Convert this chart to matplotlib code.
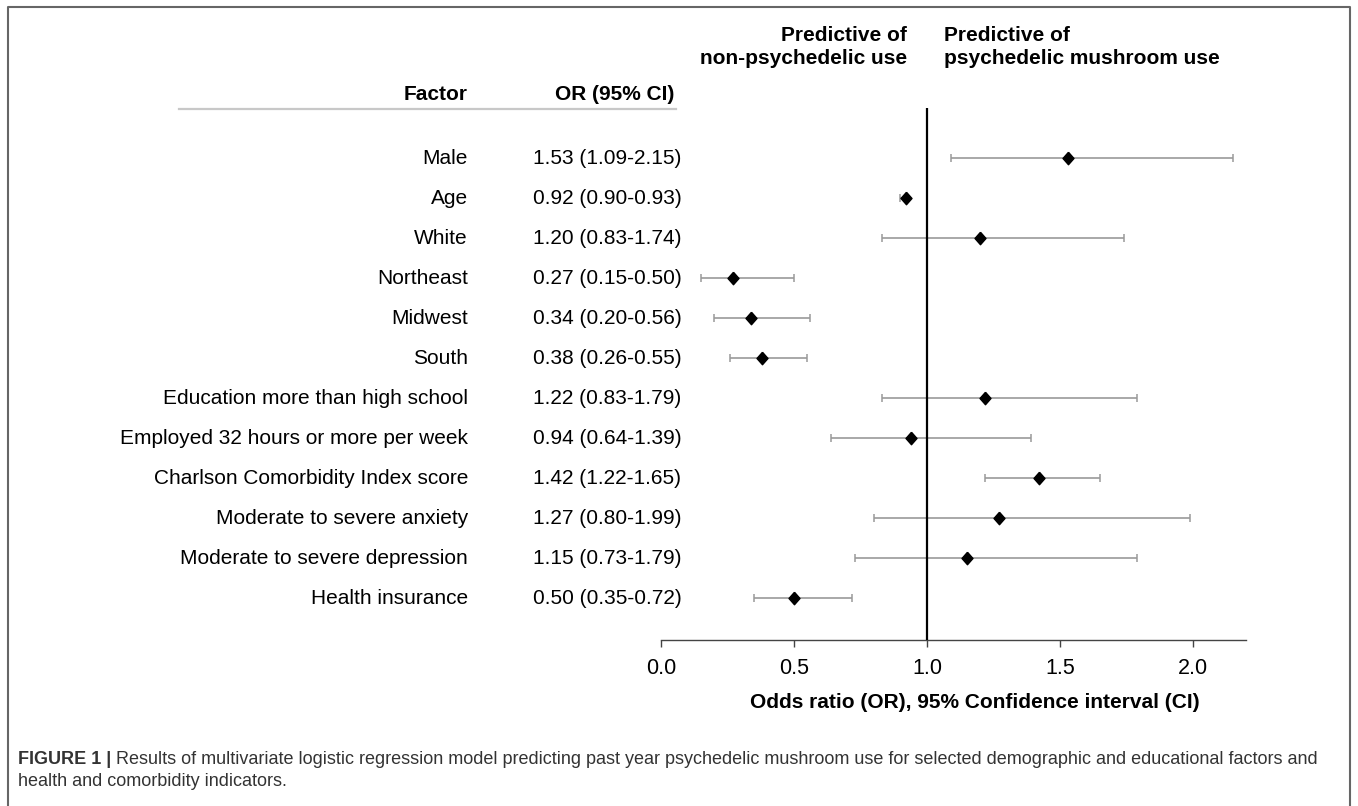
import matplotlib
matplotlib.use("Agg")
import matplotlib.pyplot as plt
from matplotlib.lines import Line2D

plt.rcParams['font.family'] = ['Liberation Sans', 'DejaVu Sans']

factors = ["Male", "Age", "White", "Northeast", "Midwest", "South",
           "Education more than high school", "Employed 32 hours or more per week",
           "Charlson Comorbidity Index score", "Moderate to severe anxiety",
           "Moderate to severe depression", "Health insurance"]
odds = [1.53, 0.92, 1.20, 0.27, 0.34, 0.38, 1.22, 0.94, 1.42, 1.27, 1.15, 0.50]
ci_low = [1.09, 0.90, 0.83, 0.15, 0.20, 0.26, 0.83, 0.64, 1.22, 0.80, 0.73, 0.35]
ci_high = [2.15, 0.93, 1.74, 0.50, 0.56, 0.55, 1.79, 1.39, 1.65, 1.99, 1.79, 0.72]
xticks = [0.0, 0.5, 1.0, 1.5, 2.0]

W, H = 1358, 806
fig = plt.figure(figsize=(W / 100, H / 100), dpi=100)

def fx(px):
    return px / W

def fy(py):
    return 1 - py / H

# axes
ax = fig.add_axes([fx(661), fy(640), fx(1246) - fx(661), fy(108) - fy(640)])
n = len(factors)
ys = list(range(n))
ax.set_xlim(0, 2.2)
ax.set_ylim(12.05, -1.25)

xerr = [[o - l for o, l in zip(odds, ci_low)], [h - o for o, h in zip(odds, ci_high)]]
ax.errorbar(odds, ys, xerr=xerr, fmt='none', ecolor='#9a9a9a', elinewidth=1.2,
            capsize=3.2, capthick=1.1, zorder=2)
diamond = [(0, 1), (0.88, 0), (0, -1), (-0.88, 0), (0, 1)]
ax.plot(odds, ys, linestyle='none', marker=diamond, markersize=9,
        color='black', zorder=4)
ax.axvline(1.0, color='black', lw=1.6, zorder=3)

for s in ['top', 'right', 'left']:
    ax.spines[s].set_visible(False)
ax.spines['bottom'].set_color('#444444')
ax.spines['bottom'].set_linewidth(1.0)
ax.set_yticks([])
ax.set_xticks(xticks)
ax.set_xticklabels([f"{t:.1f}" for t in xticks])
ax.tick_params(axis='x', direction='out', length=5, width=1.0, color='#444444',
               labelsize=15.5, pad=8, labelcolor='black')

# table text
for i, (f, o, l, h) in enumerate(zip(factors, odds, ci_low, ci_high)):
    ypx = 158 + 40 * i
    fig.text(fx(468), fy(ypx), f, ha='right', va='center', fontsize=15)
    fig.text(fx(533), fy(ypx), f"{o:.2f} ({l:.2f}-{h:.2f})", ha='left',
             va='center', fontsize=15)

fig.text(fx(468), fy(95), "Factor", ha='right', va='center', fontsize=15,
         fontweight='bold')
fig.text(fx(555), fy(95), "OR (95% CI)", ha='left', va='center', fontsize=15,
         fontweight='bold')
fig.add_artist(Line2D([fx(179), fx(676)], [fy(109), fy(109)], color='#c8c8c8',
                      lw=1.6, transform=fig.transFigure))

fig.text(fx(907), fy(47), "Predictive of\nnon-psychedelic use", ha='right',
         va='center', fontsize=15, fontweight='bold', linespacing=1.3)
fig.text(fx(944), fy(47), "Predictive of\npsychedelic mushroom use", ha='left',
         va='center', fontsize=15, fontweight='bold', linespacing=1.3)

fig.text(fx(975), fy(702), "Odds ratio (OR), 95% Confidence interval (CI)",
         ha='center', va='center', fontsize=15, fontweight='bold')

# frame
frame_col = '#666666'
fig.add_artist(Line2D([fx(7.5), fx(7.5), fx(1350), fx(1350)],
                      [fy(810), fy(6.5), fy(6.5), fy(810)], color=frame_col,
                      lw=1.5, transform=fig.transFigure))

# caption
cap_col = '#333333'
t1 = fig.text(fx(18), fy(760), "FIGURE 1 |", ha='left', va='center',
              fontsize=13, fontweight='bold', color=cap_col)
fig.canvas.draw()
bb = t1.get_window_extent()
fig.text(bb.x1 / W + fx(5), fy(760),
         "Results of multivariate logistic regression model predicting past year "
         "psychedelic mushroom use for selected demographic and educational factors and",
         ha='left', va='center', fontsize=13, color=cap_col)
fig.text(fx(18), fy(782), "health and comorbidity indicators.", ha='left',
         va='center', fontsize=13, color=cap_col)

fig.savefig("out.png", dpi=100)
